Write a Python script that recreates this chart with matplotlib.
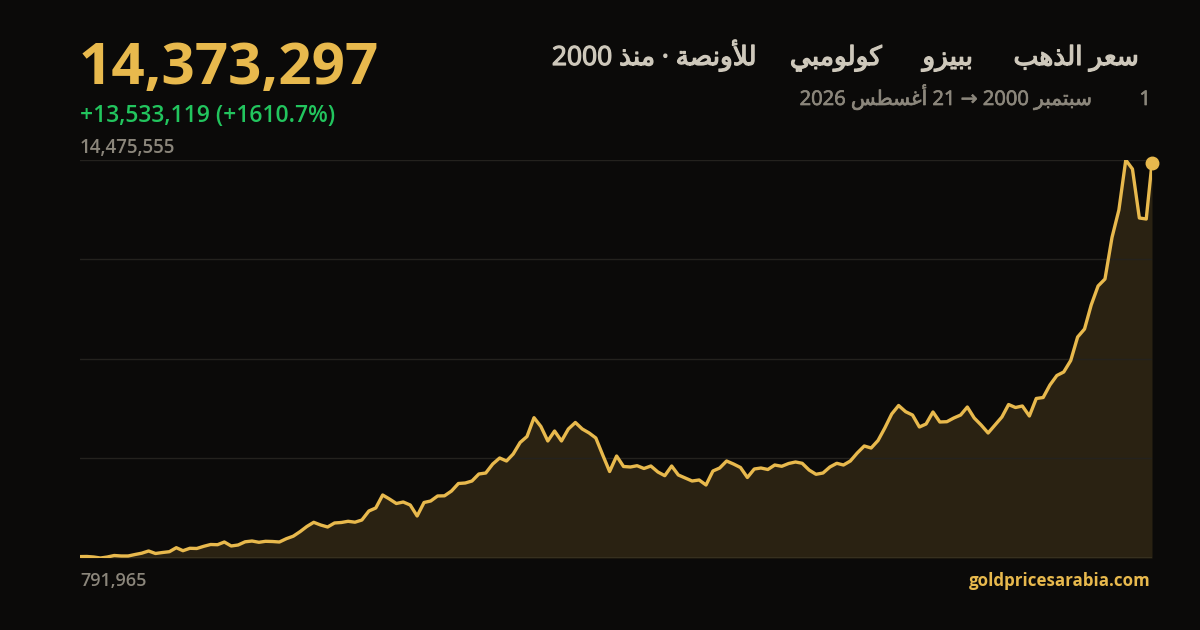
import matplotlib
matplotlib.use("Agg")
import matplotlib.pyplot as plt
import matplotlib.patheffects as pe
import numpy as np
import pandas as pd

# gold price in Colombian peso per ounce, every 2 months from Sep 2000
values = [
    840178, 844000, 826000, 791965, 826000, 878000, 861000, 861000, 912000, 957000,
    1033000, 947000, 981000, 1009000, 1146000, 1043000, 1126000, 1119000, 1194000, 1256000,
    1249000, 1342000, 1205000, 1239000, 1349000, 1376000, 1332000, 1366000, 1359000, 1342000,
    1456000, 1542000, 1700000, 1875000, 2019000, 1927000, 1858000, 1996000, 2013000, 2054000,
    2023000, 2098000, 2408000, 2511000, 2958000, 2820000, 2666000, 2717000, 2614000, 2236000,
    2700000, 2752000, 2924000, 2930000, 3095000, 3353000, 3371000, 3439000, 3680000, 3714000,
    4024000, 4230000, 4127000, 4368000, 4763000, 4969000, 5616000, 5313000, 4815000, 5158000,
    4815000, 5227000, 5451000, 5227000, 5090000, 4918000, 4333000, 3766000, 4299000, 3938000,
    3921000, 3965000, 3869000, 3955000, 3749000, 3622000, 3955000, 3646000, 3542000, 3439000,
    3474000, 3302000, 3783000, 3886000, 4127000, 4024000, 3903000, 3560000, 3852000, 3886000,
    3835000, 3989000, 3945000, 4041000, 4093000, 4048000, 3817000, 3670000, 3714000, 3921000,
    4048000, 3989000, 4127000, 4402000, 4643000, 4574000, 4832000, 5262000, 5743000, 6035000,
    5822000, 5708000, 5296000, 5399000, 5812000, 5468000, 5478000, 5605000, 5708000, 5983000,
    5605000, 5365000, 5090000, 5365000, 5640000, 6069000, 5966000, 6018000, 5674000, 6276000,
    6310000, 6740000, 7066000, 7187000, 7582000, 8390000, 8665000, 9490000, 10144000, 10384000,
    11811000, 12757000, 14475555, 14166000, 12482000, 12447000,
]
last_value = 14373297
start_date = "2000-09-01"
end_date = "2026-08-21"

title_parts = ["سعر الذهب", "ببيزو", "كولومبي", "للأونصة · منذ 2000"]
subtitle_day = "1"
subtitle_rest = "سبتمبر 2000 → 21 أغسطس 2026"
site = "goldpricesarabia.com"

dates = list(pd.date_range(start_date, periods=len(values), freq="2MS")) + [pd.Timestamp(end_date)]
values = values + [last_value]

# --- tiny arabic shaper (matplotlib has no shaping / bidi) ---
FORMS = {
    "ا": (0xFE8D, 0xFE8E), "أ": (0xFE83, 0xFE84), "د": (0xFEA9, 0xFEAA), "ذ": (0xFEAB, 0xFEAC),
    "ر": (0xFEAD, 0xFEAE), "ز": (0xFEAF, 0xFEB0), "و": (0xFEED, 0xFEEE), "ة": (0xFE93, 0xFE94),
    "ب": (0xFE8F, 0xFE90, 0xFE91, 0xFE92), "ت": (0xFE95, 0xFE96, 0xFE97, 0xFE98),
    "س": (0xFEB1, 0xFEB2, 0xFEB3, 0xFEB4), "ص": (0xFEB9, 0xFEBA, 0xFEBB, 0xFEBC),
    "ط": (0xFEC1, 0xFEC2, 0xFEC3, 0xFEC4), "ع": (0xFEC9, 0xFECA, 0xFECB, 0xFECC),
    "غ": (0xFECD, 0xFECE, 0xFECF, 0xFED0), "ك": (0xFED9, 0xFEDA, 0xFEDB, 0xFEDC),
    "ل": (0xFEDD, 0xFEDE, 0xFEDF, 0xFEE0), "م": (0xFEE1, 0xFEE2, 0xFEE3, 0xFEE4),
    "ن": (0xFEE5, 0xFEE6, 0xFEE7, 0xFEE8), "ه": (0xFEE9, 0xFEEA, 0xFEEB, 0xFEEC),
    "ي": (0xFEF1, 0xFEF2, 0xFEF3, 0xFEF4),
}
LAM_ALEF = {"أ": (0xFEF7, 0xFEF8), "ا": (0xFEFB, 0xFEFC)}


def shape_word(word):
    units = []
    i = 0
    while i < len(word):
        c = word[i]
        if c == "ل" and i + 1 < len(word) and word[i + 1] in LAM_ALEF:
            units.append(LAM_ALEF[word[i + 1]])
            i += 2
        else:
            units.append(FORMS[c])
            i += 1
    out = ""
    for k, f in enumerate(units):
        prev_joins = k > 0 and len(units[k - 1]) == 4
        next_joins = len(f) == 4 and k + 1 < len(units)
        if prev_joins and next_joins:
            cp = f[3]
        elif prev_joins:
            cp = f[1]
        elif next_joins:
            cp = f[2]
        else:
            cp = f[0]
        out += chr(cp)
    return out[::-1]


def ar(text):
    toks = []
    for t in text.split(" "):
        toks.append(shape_word(t) if t and t[0] in FORMS else t)
    return " ".join(toks[::-1])


BG = "#0b0a09"
GOLD = "#e8b94d"
TITLE_C = "#cec8bb"
GREY = "#8b867b"
FONT = ["Open Sans", "DejaVu Sans"]

fig = plt.figure(figsize=(12, 6.3), dpi=100, facecolor=BG)
ax = fig.add_axes([80 / 1200, 72 / 630, 1072 / 1200, 398 / 630])
ax.set_facecolor(BG)

vmin, vmax = min(values), max(values)
ax.fill_between(dates, values, vmin, color=GOLD, alpha=0.14, lw=0)
ax.plot(dates, values, color=GOLD, lw=2.4, solid_joinstyle="round", zorder=3)
ax.plot(dates[-1], values[-1], "o", color=GOLD, ms=9, clip_on=False, zorder=4)

ax.set_xlim(dates[0], dates[-1])
ax.set_ylim(vmin, vmax)
ax.set_yticks(np.linspace(vmin, vmax, 5))
ax.grid(axis="y", color="#24221e", lw=1)
ax.axhline(vmin, color="#3a3422", lw=1.2, zorder=2)
ax.tick_params(left=False, bottom=False, labelleft=False, labelbottom=False)
ax.set_xticks([])
for s in ax.spines.values():
    s.set_visible(False)


def px(x, y):
    return x / 1200, 1 - y / 630


change = last_value - values[0]
pct = change / values[0] * 100

fig.text(*px(79, 84), f"{last_value:,}", color=GOLD, fontsize=42, weight="bold",
         family=FONT, va="baseline")
fig.text(*px(80, 121.5), f"+{change:,} (+{pct:.1f}%)", color="#22c55e", fontsize=16.5,
         weight="semibold", family=FONT, va="baseline")
fig.text(*px(80, 153.5), f"{vmax:,}", color=GREY, fontsize=13.5, weight="semibold",
         family=FONT, va="baseline")
fig.text(*px(80, 586), f"{vmin:,}", color=GREY, fontsize=13, weight="semibold",
         family=FONT, va="baseline")
fig.text(*px(1151, 586), site, color=GOLD, fontsize=12.2, weight="bold",
         family=FONT, va="baseline", ha="right")

# title, drawn right to left; thin stroke gives a medium weight
for part, right in zip(title_parts, [1139, 973, 882, 757]):
    fig.text(*px(right, 65), ar(part), color=TITLE_C, fontsize=19, weight="medium",
             family=FONT, va="baseline", ha="right",
             path_effects=[pe.withStroke(linewidth=0.9, foreground=TITLE_C)])

fig.text(*px(1151, 105), subtitle_day, color=GREY, fontsize=14.5, weight="medium",
         family=FONT, va="baseline", ha="right",
         path_effects=[pe.withStroke(linewidth=0.5, foreground=GREY)])
fig.text(*px(1093, 105), ar(subtitle_rest), color=GREY, fontsize=14.5, weight="medium",
         family=FONT, va="baseline", ha="right",
         path_effects=[pe.withStroke(linewidth=0.5, foreground=GREY)])

fig.savefig("out.png", dpi=100, facecolor=BG)
